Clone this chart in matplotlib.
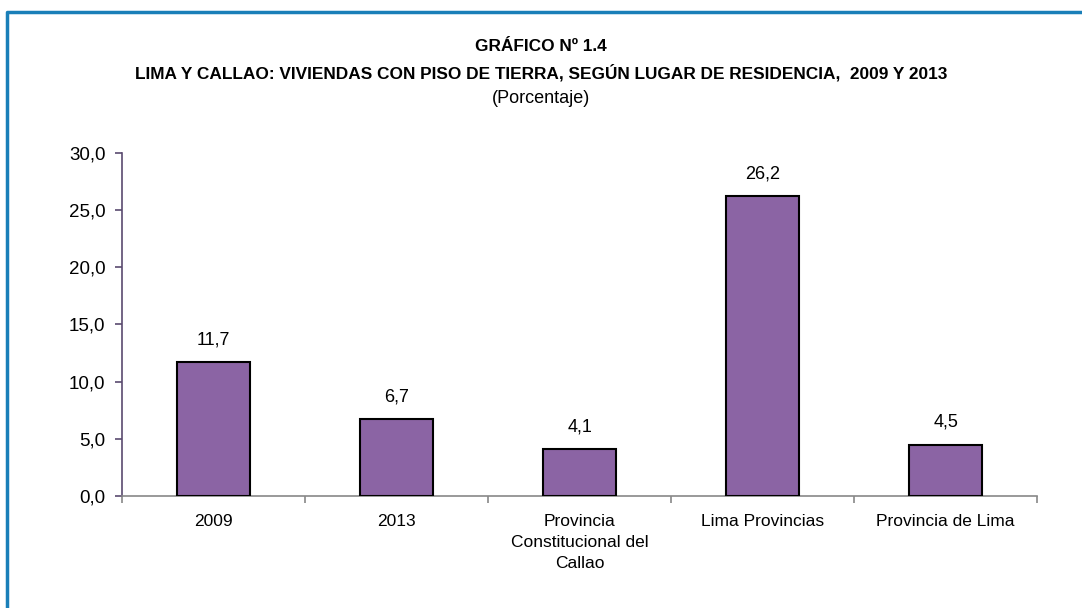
import matplotlib.pyplot as plt
from matplotlib.lines import Line2D

# data
categories = ['2009', '2013', 'Provincia\nConstitucional del\nCallao', 'Lima Provincias', 'Provincia de Lima']
values = [11.7, 6.7, 4.1, 26.2, 4.5]
y_ticks = [0, 5, 10, 15, 20, 25, 30]

plt.rcParams['font.family'] = ['Liberation Sans', 'DejaVu Sans']

fig = plt.figure(figsize=(10.82, 6.08), dpi=100)
ax = fig.add_axes([0.1128, 0.1842, 0.8457, 0.5642])

x = list(range(len(categories)))
bars = ax.bar(x, values, width=0.4, color='#8B64A4', edgecolor='black', linewidth=1.5, zorder=3)

# value labels with decimal comma
for rect, v in zip(bars, values):
    ax.annotate(f'{v:.1f}'.replace('.', ','),
                (rect.get_x() + rect.get_width() / 2, rect.get_height()),
                xytext=(0, 10), textcoords='offset points',
                ha='center', va='bottom', fontsize=13)

ax.set_xlim(-0.5, len(categories) - 0.5)
ax.set_ylim(0, 30)
ax.set_yticks(y_ticks)
ax.set_yticklabels([f'{t:.1f}'.replace('.', ',') for t in y_ticks], fontsize=13.5)

# category labels centred, ticks on the boundaries
ax.set_xticks(x)
ax.set_xticklabels(categories, fontsize=12.5, linespacing=1.5)
ax.tick_params(axis='x', which='major', length=0, pad=13)
ax.set_xticks([i - 0.5 for i in range(len(categories) + 1)], minor=True)
ax.tick_params(axis='x', which='minor', length=5, color='#888888', width=1.2)
ax.tick_params(axis='y', length=5, color='#5a4a70', width=1.2, pad=7)

for side in ['top', 'right']:
    ax.spines[side].set_visible(False)
ax.spines['left'].set_color('#5a4a70')
ax.spines['left'].set_linewidth(1.2)
ax.spines['bottom'].set_color('#888888')
ax.spines['bottom'].set_linewidth(1.2)

# titles
fig.text(0.5, 0.924, 'GRÁFICO Nº 1.4', ha='center', va='center', fontsize=12.4, fontweight='bold')
fig.text(0.5, 0.881, 'LIMA Y CALLAO: VIVIENDAS CON PISO DE TIERRA, SEGÚN LUGAR DE RESIDENCIA,  2009 Y 2013',
         ha='center', va='center', fontsize=12.4, fontweight='bold')
fig.text(0.5, 0.838, '(Porcentaje)', ha='center', va='center', fontsize=13)

# blue frame (left and top edges)
fig.add_artist(Line2D([7 / 1082, 7 / 1082, 1], [0, 1 - 12 / 608, 1 - 12 / 608],
                      transform=fig.transFigure, color='#1a7fb8', linewidth=2.5))

fig.savefig('out.png', dpi=100)
